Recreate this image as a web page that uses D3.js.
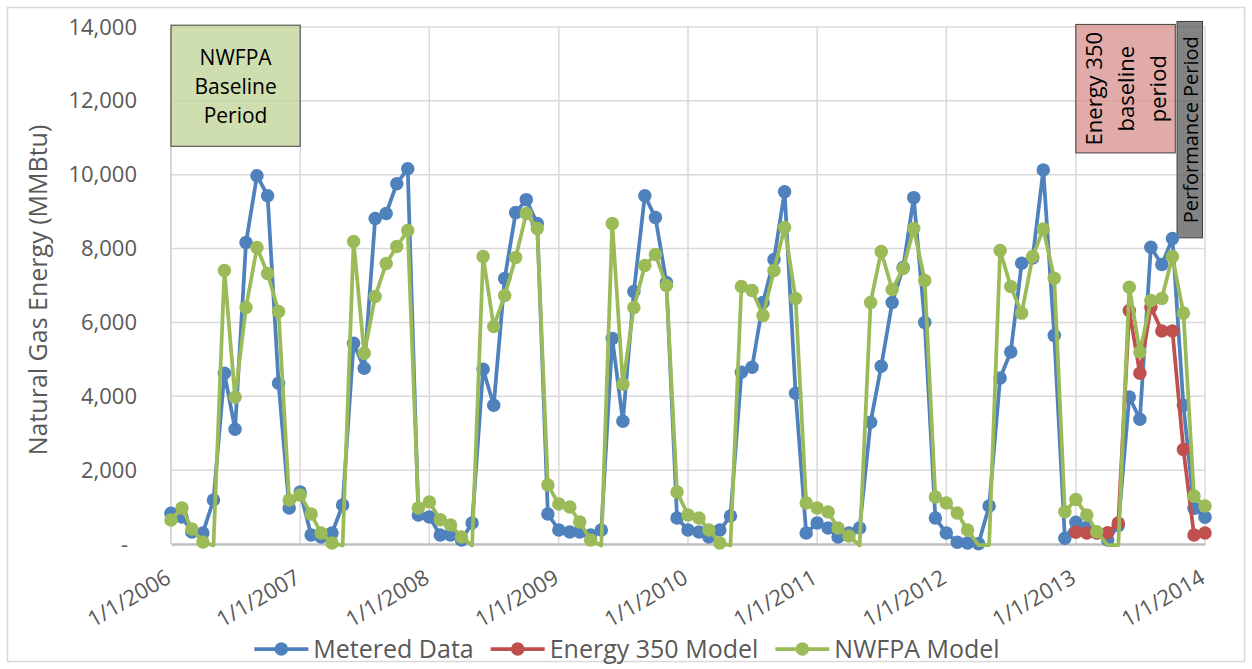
<!DOCTYPE html>
<html>
<head>
<meta charset="utf-8">
<title>Natural Gas Energy</title>
<style>
  body { margin: 0; background: #fff; }
  text { font-family: "Open Sans", sans-serif; fill: #595959; }
  .note text { fill: #000; }
</style>
</head>
<body>
<script src="https://cdn.jsdelivr.net/npm/d3@7/dist/d3.min.js"></script>
<script>
// monthly points, Jan 2006 .. Jan 2014
var start = new Date(2006, 0, 1);
var months = d3.timeMonth.range(start, new Date(2014, 0, 2));

var metered = [830, 730, 324, 300, 1190, 4622, 3108, 8163, 9974, 9433, 4352, 973,
  1405, 243, 189, 297, 1054, 5433, 4757, 8812, 8947, 9758, 10163, 784,
  730, 243, 243, 108, 568, 4730, 3757, 7190, 8974, 9325, 8677, 811,
  378, 324, 324, 243, 378, 5568, 3325, 6839, 9433, 8839, 7082, 703,
  378, 324, 189, 378, 757, 4649, 4784, 6541, 7703, 9541, 4081, 297,
  568, 432, 189, 297, 432, 3298, 4811, 6541, 7487, 9379, 6001, 703,
  297, 50, 30, 10, 1027, 4496, 5198, 7604, 7748, 10128, 5649, 153,
  590, 450, 300, 108, 500, 3982, 3379, 8036, 7568, 8271, 3757, 965,
  722];

var nwfpa = [650, 973, 405, 54, -40, 7406, 3973, 6406, 8028, 7325, 6298, 1190,
  1324, 811, 297, 27, -40, 8190, 5163, 6703, 7595, 8055, 8487, 973,
  1135, 660, 514, 189, -40, 7784, 5892, 6730, 7757, 8947, 8541, 1595,
  1081, 1000, 595, 108, -40, 8677, 4325, 6406, 7541, 7838, 7001, 1406,
  784, 703, 378, 27, -40, 6974, 6866, 6190, 7406, 8568, 6649, 1108,
  973, 865, 432, 216, -40, 6541, 7920, 6893, 7460, 8541, 7136, 1270,
  1108, 838, 378, -30, -30, 7947, 6974, 6252, 7784, 8532, 7199, 874,
  1207, 784, 333, -30, -30, 6955, 5198, 6595, 6649, 7784, 6252, 1297,
  1027];

// Energy 350 model starts Jan 2013
var e350Start = 84;
var energy350 = [320, 297, 306, 306, 568, 6325, 4622, 6415, 5766, 5766, 2560, 243, 300];

var seriesNames = ["Metered Data", "Energy 350 Model", "NWFPA Model"];
var colors = ["#4f81bd", "#c0504d", "#9bbb59"];
var yTicks = [0, 2000, 4000, 6000, 8000, 10000, 12000, 14000];

var width = 1252, height = 669;
var pLeft = 171, pRight = 1205, pTop = 27, pBottom = 544;

var svg = d3.select("body").append("svg")
  .attr("width", width)
  .attr("height", height);

// chart border
svg.append("rect")
  .attr("x", 7.5).attr("y", 7.5)
  .attr("width", 1237).attr("height", 654)
  .attr("fill", "#fff").attr("stroke", "#d9d9d9").attr("stroke-width", 1.5);

var x = d3.scaleTime()
  .domain([start, new Date(2014, 0, 1)])
  .range([pLeft, pRight]);
var y = d3.scaleLinear().domain([0, 14000]).range([pBottom, pTop]);
var yearTicks = d3.timeYear.range(start, new Date(2014, 0, 2));

// gridlines
svg.append("g").selectAll("line").data(yTicks.slice(1)).enter().append("line")
  .attr("x1", pLeft).attr("x2", pRight)
  .attr("y1", function(d) { return y(d); }).attr("y2", function(d) { return y(d); })
  .attr("stroke", "#d9d9d9").attr("stroke-width", 1.5);
svg.append("g").selectAll("line").data(yearTicks.slice(1)).enter().append("line")
  .attr("x1", function(d) { return x(d); }).attr("x2", function(d) { return x(d); })
  .attr("y1", pTop).attr("y2", pBottom)
  .attr("stroke", "#d9d9d9").attr("stroke-width", 1.5);
svg.append("line")
  .attr("x1", pLeft).attr("x2", pLeft).attr("y1", pTop).attr("y2", pBottom)
  .attr("stroke", "#c8c8c8").attr("stroke-width", 1.5);

// y axis
var yAxis = svg.append("g")
  .attr("transform", "translate(" + pLeft + ",0)")
  .call(d3.axisLeft(y).tickValues(yTicks).tickSize(0).tickPadding(34)
    .tickFormat(function(d) { return d === 0 ? "-" : d3.format(",")(d); }));
yAxis.select(".domain").remove();
yAxis.selectAll("text").style("font-size", "22px").attr("fill", "#595959")
  .attr("dx", function(d) { return d === 0 ? -9 : 0; });

// x axis
var xAxis = svg.append("g")
  .attr("transform", "translate(0," + pBottom + ")")
  .call(d3.axisBottom(x).tickValues(yearTicks).tickSize(0)
    .tickFormat(d3.timeFormat("%-m/%-d/%Y")));
xAxis.select(".domain").attr("stroke", "#bfbfbf").attr("stroke-width", 2.5);
xAxis.selectAll("text")
  .style("font-size", "22px").attr("fill", "#595959")
  .attr("text-anchor", "end")
  .attr("transform", "translate(1,38) rotate(-30)")
  .attr("y", 0).attr("dy", 0);

// axis title
svg.append("text")
  .attr("transform", "translate(47,290) rotate(-90)")
  .attr("text-anchor", "middle")
  .style("font-size", "25px")
  .text("Natural Gas Energy (MMBtu)");

// period notes (drawn under the lines)
var notes = svg.append("g").attr("class", "note");
function noteBox(d0, d1, v0, v1, fill, op) {
  notes.append("rect")
    .attr("x", x(d0)).attr("y", y(v1))
    .attr("width", x(d1) - x(d0)).attr("height", y(v0) - y(v1))
    .attr("fill", fill).attr("fill-opacity", op)
    .attr("stroke", "#404040").attr("stroke-width", 1);
}
noteBox(new Date(2006, 0, 1), new Date(2007, 0, 1), 10770, 14050, "#c3d69b", 0.8);
noteBox(new Date(2013, 0, 1), new Date(2013, 9, 9), 10590, 14070, "#d99694", 0.8);
noteBox(new Date(2013, 9, 14), new Date(2013, 11, 25), 8290, 14150, "#595959", 0.75);

var nw = notes.append("text").attr("text-anchor", "middle").style("font-size", "21px");
["NWFPA", "Baseline", "Period"].forEach(function(t, i) {
  nw.append("tspan").attr("x", (x(new Date(2006, 0, 1)) + x(new Date(2007, 0, 1))) / 2)
    .attr("y", 65 + i * 29).text(t);
});
var ecx = (x(new Date(2013, 0, 1)) + x(new Date(2013, 9, 9))) / 2;
var en = notes.append("text").attr("text-anchor", "middle").style("font-size", "22px")
  .attr("transform", "translate(" + ecx + "," + (y(10590) + y(14070)) / 2 + ") rotate(-90)");
["Energy 350", "baseline", "period"].forEach(function(t, i) {
  en.append("tspan").attr("x", 0).attr("y", -24 + i * 32).text(t);
});
var pcx = (x(new Date(2013, 9, 14)) + x(new Date(2013, 11, 25))) / 2;
notes.append("text").attr("text-anchor", "middle").style("font-size", "20px")
  .attr("transform", "translate(" + pcx + "," + (y(8290) + y(14150)) / 2 + ") rotate(-90)")
  .append("tspan").attr("x", 0).attr("y", 8).text("Performance Period");

// series
var series = [
  metered.map(function(v, i) { return {date: months[i], v: v}; }),
  energy350.map(function(v, i) { return {date: months[e350Start + i], v: v}; }),
  nwfpa.map(function(v, i) { return {date: months[i], v: v}; })
];
var line = d3.line()
  .x(function(d) { return x(d.date); })
  .y(function(d) { return y(Math.max(d.v, -60)); });

series.forEach(function(data, s) {
  var g = svg.append("g");
  g.append("path").datum(data)
    .attr("d", line)
    .attr("fill", "none")
    .attr("stroke", colors[s])
    .attr("stroke-width", 3.75)
    .attr("stroke-linejoin", "round");
  g.selectAll("circle").data(data.filter(function(d) { return d.v >= 0; }))
    .enter().append("circle")
    .attr("cx", function(d) { return x(d.date); })
    .attr("cy", function(d) { return y(d.v); })
    .attr("r", 6.75)
    .attr("fill", colors[s]);
});

// legend
var legend = svg.append("g");
var lx = 0;
seriesNames.forEach(function(name, i) {
  var item = legend.append("g").attr("transform", "translate(" + lx + ",0)");
  item.append("line").attr("x1", 0).attr("x2", 54).attr("y1", 0).attr("y2", 0)
    .attr("stroke", colors[i]).attr("stroke-width", 3.75);
  item.append("circle").attr("cx", 27).attr("cy", 0).attr("r", 6.75).attr("fill", colors[i]);
  var t = item.append("text").attr("x", 59).attr("dy", "0.35em")
    .style("font-size", "25px").text(name);
  lx += 59 + t.node().getComputedTextLength() + 17;
});
lx -= 17;
legend.attr("transform", "translate(" + (627 - lx / 2) + ",649)");
</script>
</body>
</html>
